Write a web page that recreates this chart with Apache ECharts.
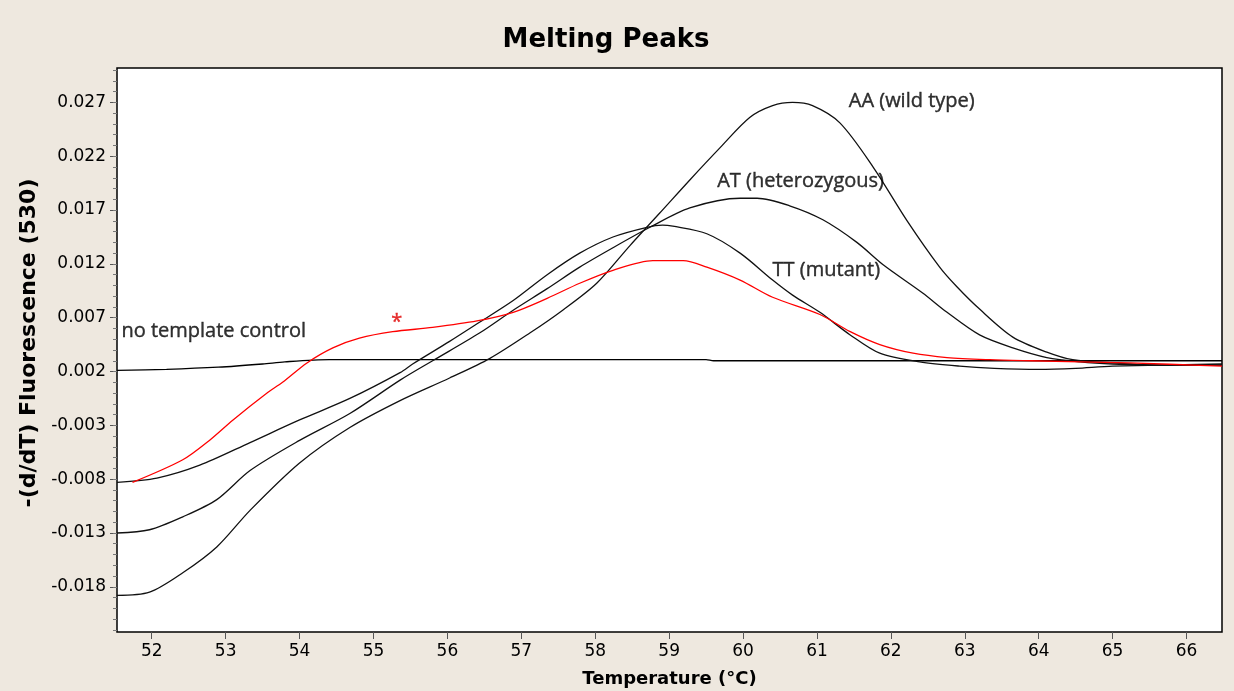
<!DOCTYPE html>
<html>
<head>
<meta charset="utf-8">
<script src="https://cdn.jsdelivr.net/npm/echarts@6/dist/echarts.min.js"></script>
<style>
html,body{margin:0;padding:0;background:#eee8df;}
#chart{width:1234px;height:691px;}
</style>
</head>
<body>
<div id="chart"></div>
<script>
// ---- data ----
const xTicks = [52,53,54,55,56,57,58,59,60,61,62,63,64,65,66];
const yTicks = [-0.018,-0.013,-0.008,-0.003,0.002,0.007,0.012,0.017,0.022,0.027];

const seriesAA = [
  [51.53,-0.0188],[51.97,-0.0185],[52.42,-0.0167],[52.88,-0.0143],[53.33,-0.0109],
  [54.00,-0.0065],[54.68,-0.0032],[55.36,-0.0007],[56.03,0.0014],[56.57,0.0032],
  [57.12,0.0056],[57.56,0.0077],[58.02,0.0102],[58.47,0.0137],[58.87,0.0167],
  [59.28,0.0198],[59.69,0.0228],[60.09,0.0256],[60.40,0.0267],[60.67,0.0270],
  [60.94,0.0267],[61.31,0.0251],[61.76,0.0210],[62.22,0.0160],[62.66,0.0117],
  [62.89,0.0099],[63.20,0.0078],[63.65,0.0052],[64.11,0.0038],[64.46,0.0031],
  [65.00,0.0028],[65.64,0.0026],[66.48,0.0026]
];
const seriesAT = [
  [51.53,-0.0130],[51.97,-0.0127],[52.42,-0.0115],[52.88,-0.0099],[53.33,-0.0072],
  [54.00,-0.0044],[54.68,-0.0019],[55.36,0.0012],[55.80,0.0030],[56.44,0.0056],
  [56.89,0.0077],[57.35,0.0097],[57.79,0.0117],[58.24,0.0135],[58.74,0.0154],
  [59.28,0.0172],[59.96,0.0181],[60.19,0.0181],[60.63,0.0174],[61.08,0.0161],
  [61.54,0.0140],[61.90,0.0119],[62.43,0.0093],[62.76,0.0075],[63.20,0.0054],
  [63.65,0.0042],[64.11,0.0033],[64.56,0.0029],[65.00,0.0027],[65.64,0.0026],[66.48,0.0026]
];
const seriesTT = [
  [51.53,-0.0083],[52.07,-0.0079],[52.65,-0.0067],[53.33,-0.0046],[54.00,-0.0025],
  [54.68,-0.0005],[55.36,0.0019],[55.53,0.0027],[56.03,0.0048],[56.44,0.0066],
  [56.89,0.0086],[57.35,0.0110],[57.79,0.0130],[58.24,0.0145],[58.70,0.0154],
  [58.91,0.0156],[59.05,0.0155],[59.51,0.0148],[59.96,0.0130],[60.40,0.0105],
  [60.67,0.0091],[61.04,0.0075],[61.45,0.0054],[61.85,0.0037],[62.39,0.0029],
  [62.93,0.0025],[63.40,0.0023],[64.00,0.0022],[64.50,0.0023],[65.00,0.0025],[66.48,0.0027]
];
const seriesStar = [
  [51.74,-0.0083],[52.42,-0.0062],[52.78,-0.0044],[53.10,-0.0025],[53.56,0.0000],
  [53.77,0.0010],[54.10,0.0028],[54.45,0.0042],[54.81,0.0051],[55.26,0.0057],
  [55.80,0.0061],[56.40,0.0067],[56.89,0.0075],[57.35,0.0088],[57.79,0.0102],
  [58.24,0.0114],[58.78,0.0123],[59.19,0.0123],[59.51,0.0117],[59.96,0.0105],
  [60.40,0.0089],[61.04,0.0073],[61.45,0.0057],[61.85,0.0045],[62.30,0.0037],[62.76,0.0033],
  [63.34,0.0031],[63.90,0.0030],[65.23,0.0028],[66.48,0.0025]
];
const seriesNTC = [
  [51.53,0.0021],[52.20,0.0022],[52.90,0.0024],[53.50,0.0027],[53.80,0.0029],
  [54.40,0.0031],[55.00,0.0031],[57.00,0.0031],[59.50,0.0031],[59.60,0.0030],
  [62.00,0.0030],[64.00,0.0030],[66.48,0.0030]
];

const annotations = [
  {text:'AA (wild type)', x:61.43, y:0.0271, color:'#000'},
  {text:'AT (heterozygous)', x:59.65, y:0.0197, color:'#000'},
  {text:'TT (mutant)', x:60.40, y:0.0114, color:'#000'},
  {text:'no template control', x:51.59, y:0.0057, color:'#000'},
  {text:'*', x:55.24, y:0.0066, color:'#e00000'}
];

const X_MIN = 51.53, X_MAX = 66.48, Y_MIN = -0.0222, Y_MAX = 0.0302;

// minor tick positions every 0.001
const yMinor = [];
for (let v = -22; v <= 30; v++) yMinor.push(v / 1000);

const chart = echarts.init(document.getElementById('chart'), null, {renderer:'canvas'});

function line(name, data, color) {
  return {
    name, type:'line', data, showSymbol:false, smooth:0.3,
    lineStyle:{color, width:1.3}, z:3, silent:true
  };
}

chart.setOption({
  backgroundColor:'#eee8df',
  animation:false,
  title:{
    text:'Melting Peaks', left:601, top:22, textAlign:'center',
    textStyle:{fontFamily:'DejaVu Sans', fontWeight:'bold', fontSize:26, color:'#000'}
  },
  grid:{
    left:117, right:12, top:68, bottom:59, outerBoundsMode:'none',
    show:true, backgroundColor:'#ffffff', borderColor:'#000', borderWidth:1.5
  },
  xAxis:{
    type:'value', min:X_MIN, max:X_MAX,
    name:'Temperature (°C)', nameLocation:'middle', nameGap:38,
    nameTextStyle:{fontFamily:'DejaVu Sans', fontWeight:'bold', fontSize:18, color:'#000'},
    axisLine:{show:false, onZero:false},
    splitLine:{show:false},
    axisTick:{show:true, customValues:xTicks, length:7, lineStyle:{color:'#555'}},
    axisLabel:{customValues:xTicks, fontFamily:'DejaVu Sans', fontSize:17, color:'#000', margin:11}
  },
  yAxis:[{
    type:'value', min:Y_MIN, max:Y_MAX,
    name:'-(d/dT) Fluorescence (530)', nameLocation:'middle', nameGap:67, nameRotate:90,
    nameTextStyle:{fontFamily:'DejaVu Sans', fontWeight:'bold', fontSize:22, color:'#000',
      padding:[0,0,0,14]},
    axisLine:{show:false, onZero:false},
    splitLine:{show:false},
    axisTick:{show:true, customValues:yTicks, length:7, lineStyle:{color:'#555'}},
    axisLabel:{customValues:yTicks, formatter:v => v.toFixed(3),
      fontFamily:'DejaVu Sans', fontSize:17, color:'#000', margin:11}
  },{
    type:'value', min:Y_MIN, max:Y_MAX, position:'left',
    axisLine:{show:false, onZero:false}, splitLine:{show:false},
    axisTick:{show:true, customValues:yMinor, length:4, lineStyle:{color:'#777'}},
    axisLabel:{show:false}
  }],
  series:[
    line('no template control', seriesNTC, '#000'),
    line('TT (mutant)', seriesTT, '#111'),
    line('AT (heterozygous)', seriesAT, '#111'),
    line('AA (wild type)', seriesAA, '#111'),
    line('*', seriesStar, '#ff0000'),
    {
      type:'scatter', symbolSize:0, silent:true, z:5,
      data: annotations.map(a => ({value:[a.x, a.y], name:a.text,
        label:{color:a.color, textBorderColor:a.color}})),
      label:{show:true, position:'right', distance:0, color:'#000',
        textBorderColor:'#000', textBorderWidth:0.4,
        formatter:p => p.name,
        fontFamily:'Open Sans', fontSize:20}
    }
  ]
});
</script>
</body>
</html>
